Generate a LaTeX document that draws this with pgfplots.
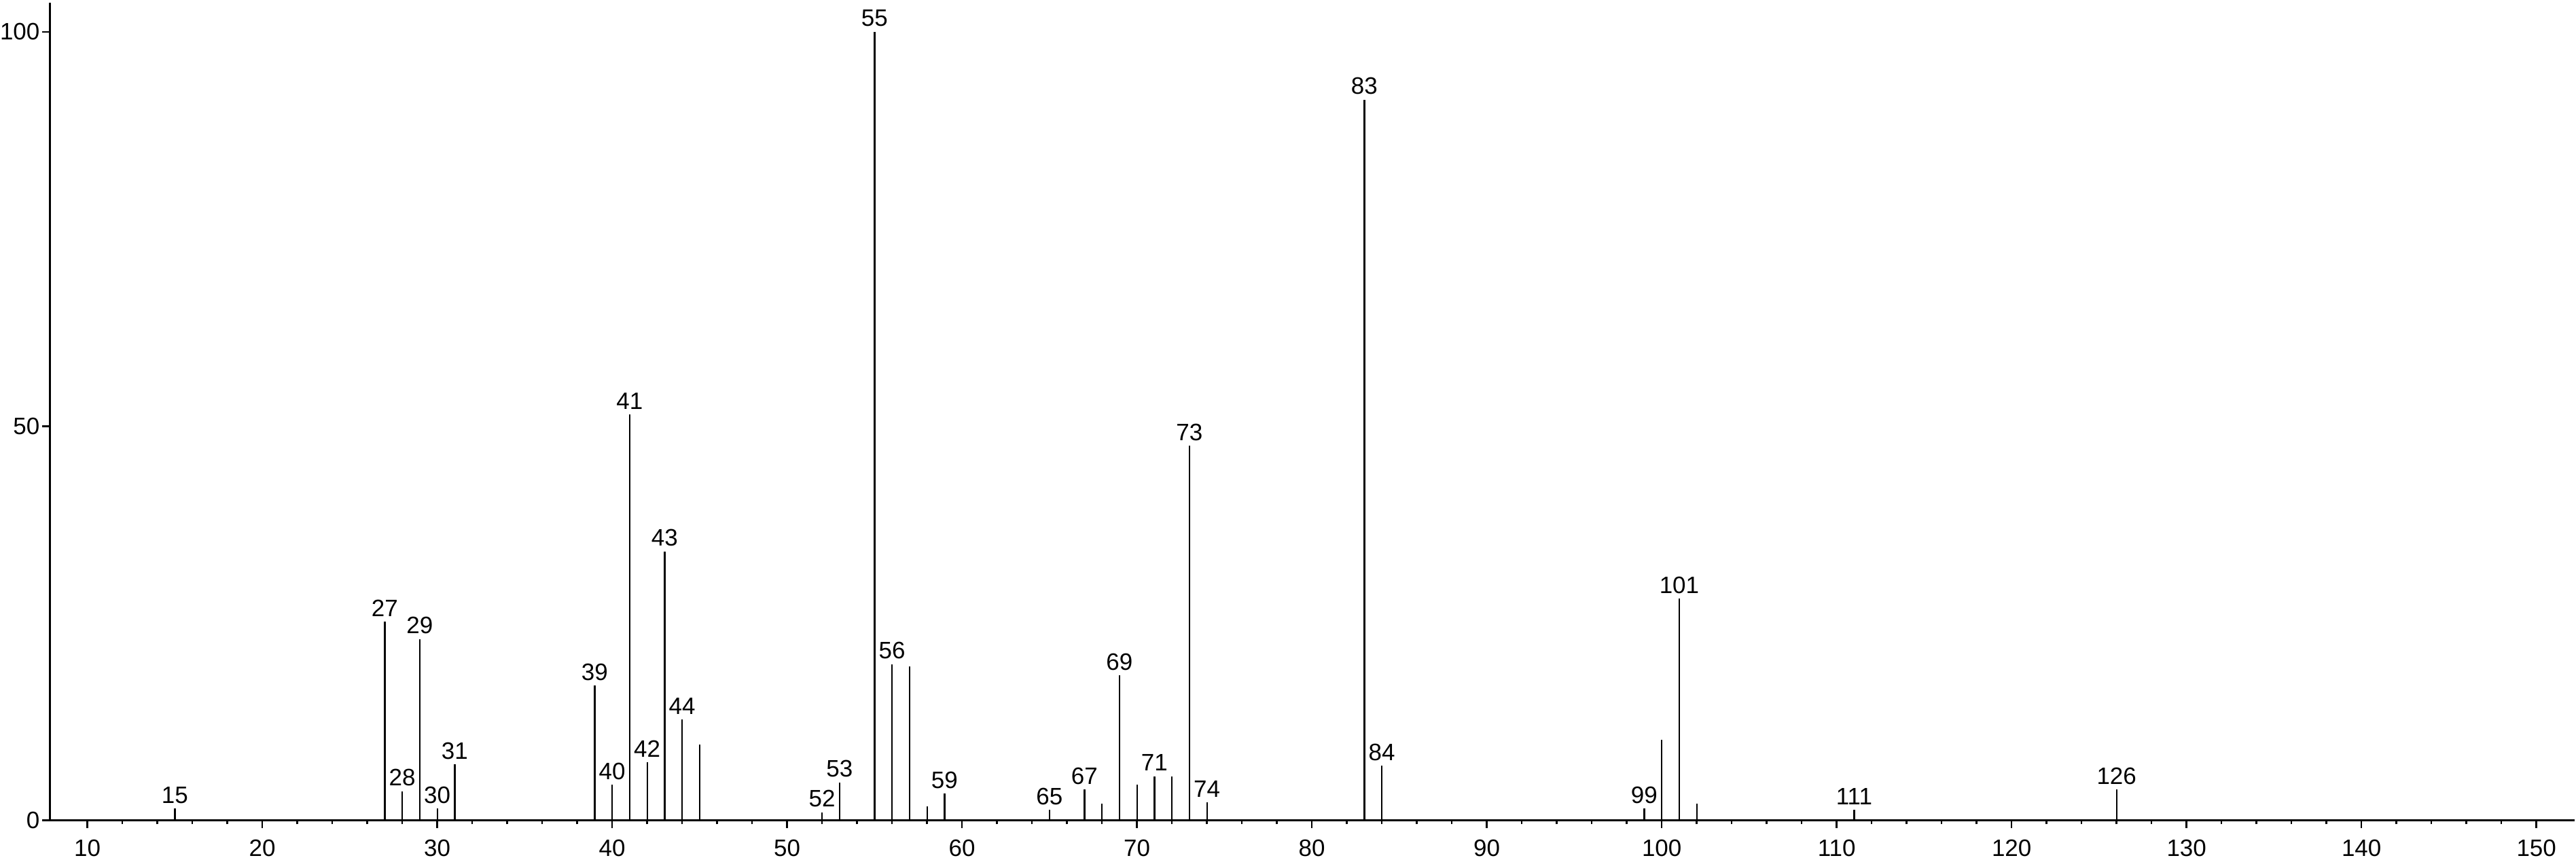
\documentclass[border=0pt]{standalone}
\usepackage{fontspec}
\setmainfont{Liberation Sans}
\usepackage{pgfplots}
\pgfplotsset{compat=1.18}
\usepackage{pgfplotstable}
\pgfplotstableread{
mz  int   lab
15  1.5   15
27  25.2  27
28  3.7   28
29  23.0  29
30  1.5   30
31  7.1   31
39  17.1  39
40  4.5   40
41  51.5  41
42  7.4   42
43  34.1  43
44  12.8  44
45  9.6   {}
52  1.0   52
53  4.8   53
55  100.0 55
56  19.8  56
57  19.5  {}
58  1.8   {}
59  3.4   59
65  1.3   65
67  3.9   67
68  2.1   {}
69  18.4  69
70  4.5   {}
71  5.6   71
72  5.6   {}
73  47.5  73
74  2.3   74
83  91.4  83
84  6.9   84
99  1.5   99
100 10.2  {}
101 28.1  101
102 2.1   {}
111 1.3   111
126 3.9   126
}\peaks
\begin{document}
\begin{tikzpicture}
\begin{axis}[
  scale only axis, width=744.14pt, height=241pt,
  xmin=7.85, xmax=152.17, ymin=0, ymax=103.7,
  axis lines*=left,
  axis line style={line width=0.6pt, black},
  xtick={10,20,...,150}, minor x tick num=4,
  ytick={0,50,100},
  tick align=outside,
  major tick length=2.2pt, minor tick length=1.15pt,
  tick style={line width=0.5pt, black},
  /pgf/number format/assume math mode=true,
  xticklabel style={inner sep=0pt, font=\fontsize{7}{8}\selectfont},
  xticklabel shift=3.4pt,
  yticklabel style={inner sep=0pt, font=\fontsize{7}{8}\selectfont},
  yticklabel shift=0.6pt,
  clip=false,
]
\addplot[ycomb, black, line width=0.46pt, mark=none,
  point meta=explicit symbolic,
  nodes near coords={\pgfplotspointmeta},
  every node near coord/.append style={anchor=south, inner sep=0pt, yshift=1.3pt, font=\fontsize{7}{8}\selectfont, black}]
  table[x=mz, y=int, meta=lab] {\peaks};
\path (rel axis cs:-0.01849,-0.04564) rectangle (rel axis cs:1.00067,1.00332);
\end{axis}
\end{tikzpicture}
\end{document}
